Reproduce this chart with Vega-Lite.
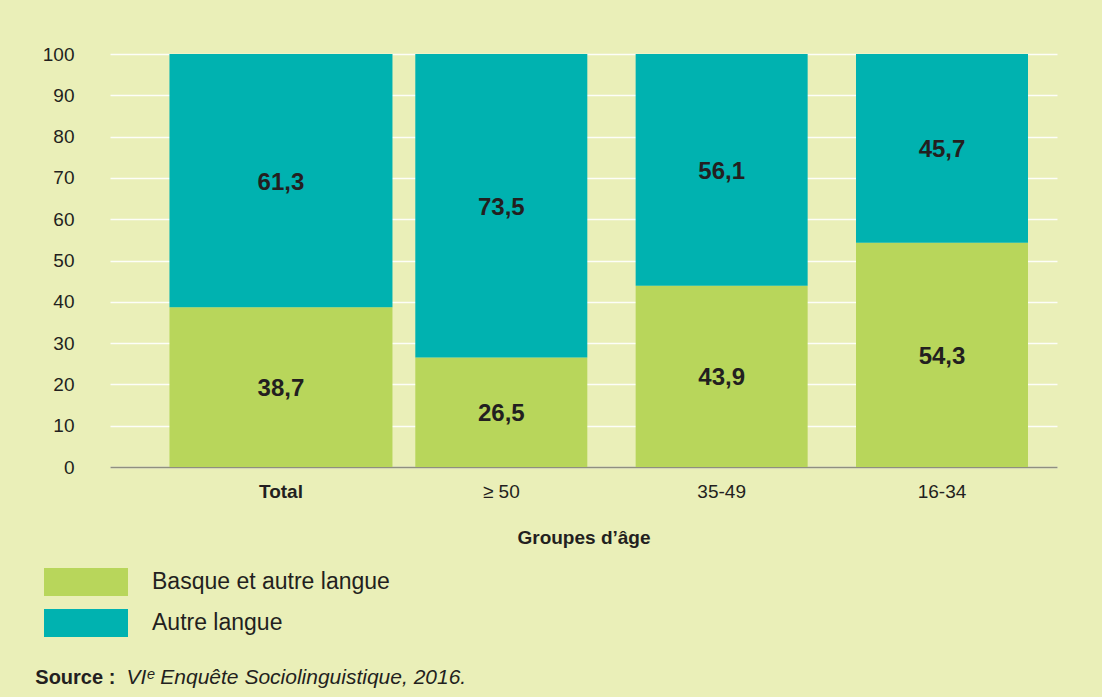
{
  "$schema": "https://vega.github.io/schema/vega-lite/v6.json",
  "autosize": "none",
  "width": 947,
  "height": 413,
  "padding": {"left": 110, "top": 54, "right": 45, "bottom": 230},
  "background": "#EAEFB8",
  "data": {
    "values": [
      {"groupe": "Total", "langue": "Basque et autre langue", "pct": 38.7},
      {"groupe": "Total", "langue": "Autre langue", "pct": 61.3},
      {"groupe": "≥ 50", "langue": "Basque et autre langue", "pct": 26.5},
      {"groupe": "≥ 50", "langue": "Autre langue", "pct": 73.5},
      {"groupe": "35-49", "langue": "Basque et autre langue", "pct": 43.9},
      {"groupe": "35-49", "langue": "Autre langue", "pct": 56.1},
      {"groupe": "16-34", "langue": "Basque et autre langue", "pct": 54.3},
      {"groupe": "16-34", "langue": "Autre langue", "pct": 45.7}
    ]
  },
  "title": {
    "text": "Source :",
    "orient": "bottom",
    "anchor": "start",
    "font": "Liberation Sans",
    "fontSize": 20,
    "fontWeight": "bold",
    "color": "#231F20",
    "offset": -19,
    "dx": -7
  },
  "encoding": {
    "x": {
      "field": "groupe",
      "type": "nominal",
      "sort": ["Total", "≥ 50", "35-49", "16-34"],
      "scale": {"paddingInner": 0.219, "paddingOuter": 0.2584, "align": 0.7457},
      "axis": {
        "title": "Groupes d’âge",
        "labelAngle": 0,
        "ticks": false,
        "domainColor": "#8F8F80",
        "domainWidth": 1.5,
        "labelPadding": 15,
        "labelFontSize": 19,
        "labelFont": "Liberation Sans",
        "labelColor": "#231F20",
        "labelFontWeight": {"condition": {"test": "datum.value === 'Total'", "value": "bold"}, "value": "normal"},
        "titleFont": "Liberation Sans",
        "titleFontSize": 19,
        "titleFontWeight": "bold",
        "titleColor": "#231F20",
        "titlePadding": 27,
        "grid": false
      }
    },
    "y": {
      "field": "pct",
      "type": "quantitative",
      "stack": "zero",
      "scale": {"domain": [0, 100]},
      "axis": {
        "title": "VIᵉ Enquête Sociolinguistique, 2016.",
        "titleAngle": 0,
        "titleX": 16,
        "titleY": 629,
        "titleAlign": "left",
        "titleBaseline": "alphabetic",
        "titleFont": "Liberation Sans",
        "titleFontSize": 21,
        "titleFontStyle": "italic",
        "titleFontWeight": "normal",
        "titleColor": "#231F20",
        "values": [0, 10, 20, 30, 40, 50, 60, 70, 80, 90, 100],
        "domain": false,
        "ticks": false,
        "labelPadding": 36,
        "labelFontSize": 19,
        "labelFont": "Liberation Sans",
        "labelColor": "#231F20",
        "gridColor": "#FFFFFF",
        "gridWidth": 1.5,
        "gridOpacity": 0.9
      }
    },
    "order": {"field": "langue", "sort": "descending"}
  },
  "layer": [
    {
      "mark": {"type": "bar"},
      "encoding": {
        "color": {
          "field": "langue",
          "type": "nominal",
          "scale": {"domain": ["Basque et autre langue", "Autre langue"], "range": ["#B8D65B", "#00B2B0"]},
          "legend": {
            "title": null,
            "orient": "none",
            "legendX": -38,
            "legendY": 514,
            "padding": 0,
            "symbolType": "M-3,-1H3V1H-3Z",
            "symbolSize": 784,
            "symbolStrokeWidth": 0,
            "symbolOpacity": 1,
            "labelOffset": 52,
            "labelLimit": 500,
            "rowPadding": 13,
            "labelFont": "Liberation Sans",
            "labelFontSize": 23,
            "labelColor": "#231F20"
          }
        },
        "size": {"condition": {"test": "datum.groupe === 'Total'", "value": 223}, "value": 172}
      }
    },
    {
      "mark": {"type": "text", "font": "Liberation Sans", "fontSize": 24, "fontWeight": "bold", "color": "#231F20", "dy": 2},
      "encoding": {
        "y": {"field": "pct", "type": "quantitative", "stack": "zero", "bandPosition": 0.5},
        "text": {"field": "pct", "type": "quantitative", "format": ".1f"}
      }
    }
  ],
  "config": {
    "view": {"stroke": null},
    "locale": {"number": {"decimal": ",", "thousands": " ", "grouping": [3], "currency": ["", " €"]}}
  }
}
